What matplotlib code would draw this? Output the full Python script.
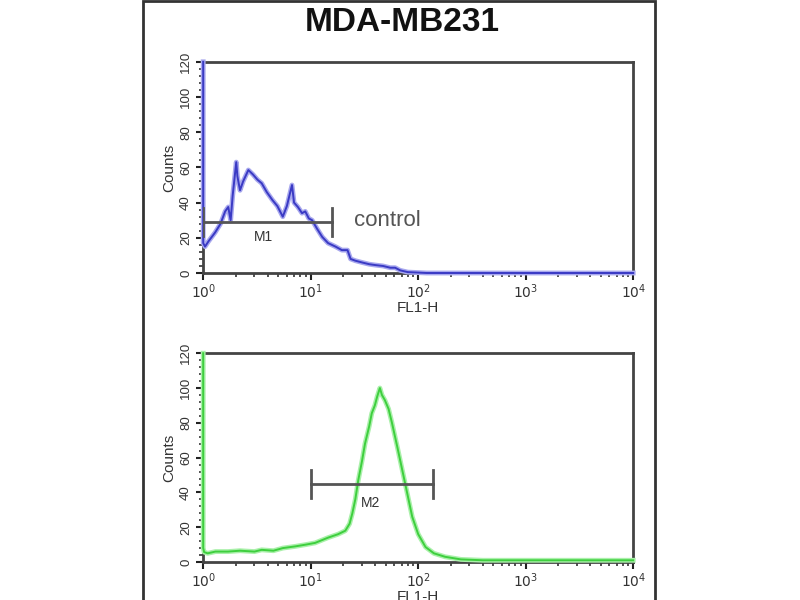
import numpy as np
import matplotlib
matplotlib.use("Agg")
import matplotlib.pyplot as plt
from matplotlib.patches import Rectangle
from matplotlib.ticker import LogLocator, MultipleLocator, FixedLocator

plt.rcParams['font.family'] = ['Liberation Sans', 'DejaVu Sans']

# values (FL1-H, counts)
title = "MDA-MB231"
xticks = [1, 10, 100, 1000, 10000]
xtick_labels = ["$10^0$", "$10^1$", "$10^2$", "$10^3$", "$10^4$"]
yticks = [0, 20, 40, 60, 80, 100, 120]

control_fl = [1.0, 1.0, 1.04, 1.12, 1.29, 1.45, 1.6, 1.71, 1.8, 1.88, 2.03, 2.08,
              2.2, 2.35, 2.63, 2.9, 3.2, 3.5, 3.9, 4.4, 4.9, 5.5, 6.0, 6.7, 7.0,
              7.6, 8.3, 8.9, 9.6, 10.3, 11.5, 12.8, 14.5, 17, 19.5, 22, 23.5,
              26, 30, 35, 40, 47, 55, 61, 68, 80, 95, 120, 200, 500, 1000, 3000, 10000]
control_counts = [120, 17, 15, 18, 23, 28, 35, 37.5, 30, 44, 63, 55,
                  47, 52, 58.5, 56, 53, 51, 46, 41.5, 38, 32, 38, 50, 40,
                  37.5, 34, 35, 31, 30, 25, 20.5, 17, 15, 13, 13, 8,
                  7, 6, 5, 4.5, 4, 3, 3, 1.5, 0.5, 0.3, 0, 0, 0, 0, 0, 0]

sample_fl = [1.0, 1.0, 1.02, 1.1, 1.3, 1.7, 2.2, 3.0, 3.5, 4.5, 5.5, 7.2, 9.0,
             11, 14.5, 18, 21, 23, 24.4, 26, 27.7, 30, 32, 35, 37, 39.5, 41.5, 44,
             46, 49, 53, 57, 64, 71, 80, 88, 100, 117, 140, 178, 250, 400, 1000,
             3000, 10000]
sample_counts = [120, 8, 5.7, 5, 6, 6, 6.5, 6, 7, 6.5, 8, 9, 10,
                 11, 14, 16, 18, 22, 28, 36, 47, 58, 68, 78, 85.5, 90, 95, 100,
                 96, 93, 88, 80, 66, 53, 38, 26, 16, 8.6, 5, 3, 1.5, 1, 1,
                 1, 1]

# marker gates: (left, right, level, label, label x, label y)
m1 = (1.0, 15.9, 29, "M1", 3.6, 20.5)
m2 = (10.0, 138.0, 45, "M2", 36, 34)

fig = plt.figure(figsize=(8, 6), dpi=100)
fig.patch.set_facecolor("white")

# outer frame of the image panel
fig.add_artist(Rectangle((143 / 800, -0.01), (655 - 143) / 800, 1.008,
                         transform=fig.transFigure, fill=False,
                         edgecolor="#333333", linewidth=2))

fig.text(0.503, 0.962, title, ha="center", va="center",
         fontsize=24, fontweight="bold", color="#111111")


def style_axes(ax):
    ax.set_xscale("log")
    ax.set_xlim(1, 10000)
    ax.set_ylim(0, 120)
    ax.xaxis.set_major_locator(FixedLocator(xticks))
    ax.set_xticklabels(xtick_labels)
    ax.xaxis.set_minor_locator(LogLocator(base=10, subs=np.arange(2, 10)))
    ax.xaxis.set_minor_formatter(plt.NullFormatter())
    ax.set_yticks(yticks)
    ax.set_yticklabels([str(v) for v in yticks], rotation=90, va="center")
    ax.yaxis.set_minor_locator(MultipleLocator(4))
    for s in ax.spines.values():
        s.set_color("#444444")
        s.set_linewidth(2)
    ax.tick_params(which="major", length=5, width=1.5, color="#222222",
                   labelsize=10, labelcolor="#333333", pad=2)
    ax.tick_params(which="minor", length=3, width=1.2, color="#333333")
    ax.tick_params(axis="y", which="major", pad=3, labelsize=9.5)
    ax.set_ylabel("Counts", fontsize=11, color="#333333", labelpad=3)
    ax.set_xlabel("FL1-H", fontsize=11, color="#333333", labelpad=0)


def gate(ax, g):
    lo, hi, lvl, lab, lx, ly = g
    ax.plot([lo, hi], [lvl, lvl], color="#555555", lw=2, zorder=4)
    ax.plot([lo, lo], [lvl - 8, lvl + 8], color="#555555", lw=2, zorder=4)
    ax.plot([hi, hi], [lvl - 8, lvl + 8], color="#555555", lw=2, zorder=4)
    ax.text(lx, ly, lab, fontsize=10, color="#333333", ha="center", va="center")


ax1 = fig.add_axes([0.254, 0.545, 0.5375, 0.352])
ax1.plot(control_fl, control_counts, color="#a8a8ee", lw=3.5, zorder=3,
         clip_on=False)
ax1.plot(control_fl, control_counts, color="#3a3ac4", lw=1.4, zorder=3,
         clip_on=False)
gate(ax1, m1)
ax1.text(17 * 1.5, 30, "control", fontsize=16, color="#555555",
         ha="left", va="center")
style_axes(ax1)

ax2 = fig.add_axes([0.254, 0.0633, 0.5375, 0.348])
ax2.plot(sample_fl, sample_counts, color="#aaf0aa", lw=3.5, zorder=3,
         clip_on=False)
ax2.plot(sample_fl, sample_counts, color="#3ecf3e", lw=1.4, zorder=3,
         clip_on=False)
gate(ax2, m2)
style_axes(ax2)

fig.savefig("out.png", dpi=100, facecolor="white")
